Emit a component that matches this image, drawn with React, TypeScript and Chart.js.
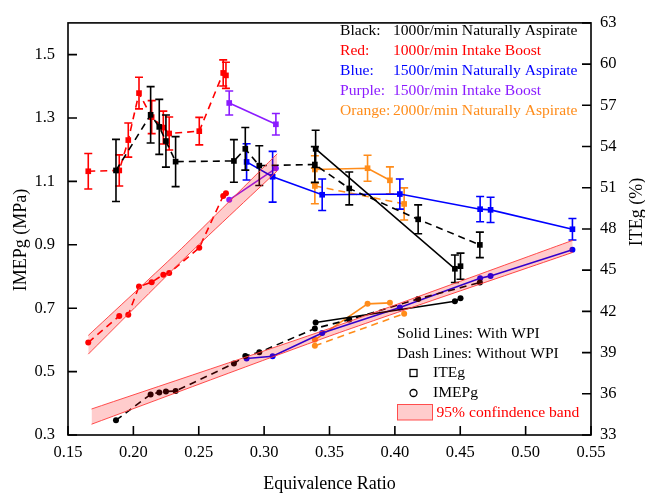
import React, { useEffect, useRef } from 'react';
import { Chart, registerables } from 'chart.js';

Chart.register(...registerables);

const FONT = '"Liberation Serif", "Times New Roman", serif';

// ---- axis ticks ----
const xTicks = [0.15, 0.2, 0.25, 0.3, 0.35, 0.4, 0.45, 0.5, 0.55];
const leftTicks = [0.3, 0.5, 0.7, 0.9, 1.1, 1.3, 1.5];
const rightTicks = [33, 36, 39, 42, 45, 48, 51, 54, 57, 60, 63];

// ---- Black: 1000r/min Naturally Aspirate, without WPI (dashed) ----
const blackDashPhi = [0.1867, 0.2132, 0.2198, 0.2249, 0.2323, 0.2769, 0.2856, 0.2963, 0.3388, 0.3651, 0.4178, 0.4650];
const blackDashITE = [52.26, 56.31, 55.43, 54.40, 52.90, 52.95, 53.83, 52.61, 52.69, 50.95, 48.70, 46.84];
const blackDashITEErr = [2.26, 2.05, 2.0, 1.9, 1.82, 1.55, 1.55, 1.45, 1.3, 1.2, 1.05, 0.93];
const blackDashIMEP = [0.3466, 0.428, 0.4344, 0.4375, 0.4387, 0.5256, 0.5493, 0.5607, 0.636, 0.664, 0.7292, 0.781];

// ---- Black: with WPI (solid) ----
const blackSolidPhi = [0.3394, 0.4459, 0.4502];
const blackSolidITE = [53.83, 45.10, 45.29];
const blackSolidITEErr = [1.36, 1.0, 0.95];
const blackSolidIMEP = [0.6547, 0.722, 0.7314];

// ---- Red: 1000r/min Intake Boost, without WPI (dashed) ----
const redDashPhi = [0.1655, 0.1892, 0.1961, 0.2043, 0.214, 0.2229, 0.2274, 0.2504, 0.2687, 0.2708];
const redDashITE = [52.2, 52.26, 54.47, 57.89, 56.14, 55.38, 54.95, 55.12, 59.36, 59.18];
const redDashITEErr = [1.29, 1.13, 1.24, 1.15, 1.2, 1.2, 1.2, 1.0, 0.95, 0.95];
const redDashIMEP = [0.5917, 0.6755, 0.6796, 0.7687, 0.782, 0.8059, 0.8112, 0.8906, 1.0542, 1.0626];

// ---- Blue: 1500r/min Naturally Aspirate, with WPI (solid) ----
const bluePhi = [0.2866, 0.3065, 0.3444, 0.4038, 0.4652, 0.4732, 0.5358];
const blueITE = [52.88, 51.80, 50.49, 50.54, 49.44, 49.39, 47.98];
const blueITEErr = [1.32, 1.85, 1.15, 1.1, 0.92, 0.92, 0.78];
const blueIMEP = [0.5411, 0.5483, 0.6218, 0.7025, 0.7944, 0.8019, 0.8844];

// ---- Purple: 1500r/min Intake Boost, with WPI (solid) ----
const purplePhi = [0.2733, 0.309];
const purpleITE = [57.17, 55.62];
const purpleITEErr = [0.87, 0.78];
const purpleIMEP = [1.0418, 1.1411];

// ---- Orange: 2000r/min Naturally Aspirate ----
const orangeSolidPhi = [0.3388, 0.3791, 0.3962];
const orangeSolidITE = [52.33, 52.42, 51.54];
const orangeSolidITEErr = [1.0, 0.95, 0.98];
const orangeSolidIMEP = [0.6001, 0.7137, 0.7168];
const orangeDashPhi = [0.3388, 0.4071];
const orangeDashITE = [51.13, 49.82];
const orangeDashITEErr = [1.3, 1.17];
const orangeDashIMEP = [0.5815, 0.6827];

// ---- 95% confidence bands (IMEPg) ----
const redBandPhi = [0.1655, 0.237, 0.31];
const redBandUpper = [0.614, 0.889, 1.187];
const redBandLower = [0.555, 0.849, 1.133];
const lowBandPhi = [0.168, 0.35, 0.536];
const lowBandUpper = [0.382, 0.636, 0.914];
const lowBandLower = [0.334, 0.612, 0.876];

// ---- legend texts ----
const groupNames = ['Black:', 'Red:', 'Blue:', 'Purple:', 'Orange:'];
const groupDescs = [
  '1000r/min Naturally Aspirate',
  '1000r/min Intake Boost',
  '1500r/min Naturally Aspirate',
  '1500r/min Intake Boost',
  '2000r/min Naturally Aspirate',
];
const groupColors = ['#000000', '#ff0000', '#0000ff', '#8b1cff', '#ff8c1a'];
const lineNotes = ['Solid Lines: With WPI', 'Dash Lines: Without WPI'];
const markerNotes = ['ITEg', 'IMEPg'];
const bandNote = '95% confindence band';
const xTitle = 'Equivalence Ratio';
const yLeftTitle = 'IMEPg (MPa)';
const yRightTitle = 'ITEg (%)';

const pts = (xs: number[], ys: number[]) => xs.map((x, i) => ({ x, y: ys[i] }));

const DASH = [7, 5];

function iteSet(label: string, phi: number[], v: number[], err: number[], color: string, dashed: boolean) {
  return {
    label,
    data: pts(phi, v),
    errs: err,
    yAxisID: 'y1',
    borderColor: color,
    backgroundColor: color,
    borderWidth: 1.6,
    borderDash: dashed ? DASH : [],
    pointStyle: 'rect',
    pointRadius: 4,
    pointBorderWidth: 0,
    pointBackgroundColor: color,
    showLine: true,
    fill: false,
    tension: 0,
    order: 2,
  };
}

function imepSet(label: string, phi: number[], v: number[], color: string, dashed: boolean) {
  return {
    label,
    data: pts(phi, v),
    yAxisID: 'y',
    borderColor: color,
    backgroundColor: color,
    borderWidth: 1.6,
    borderDash: dashed ? DASH : [],
    pointStyle: 'circle',
    pointRadius: 3,
    pointBorderWidth: 0,
    pointBackgroundColor: color,
    showLine: true,
    fill: false,
    tension: 0,
    order: 2,
  };
}

function bandSet(label: string, phi: number[], v: number[], fill: any) {
  return {
    label,
    data: pts(phi, v),
    yAxisID: 'y',
    borderColor: 'rgba(255,60,60,0.9)',
    backgroundColor: 'rgba(255,0,0,0.2)',
    borderWidth: 1,
    pointRadius: 0,
    showLine: true,
    fill,
    tension: 0.2,
    order: 0,
  };
}

const errorBarPlugin = {
  id: 'errbars',
  afterDatasetDraw(chart: any, args: any) {
    const ds = chart.data.datasets[args.index];
    if (!ds.errs) return;
    const ctx = chart.ctx;
    const ys = chart.scales[ds.yAxisID];
    ctx.save();
    ctx.strokeStyle = ds.borderColor;
    ctx.lineWidth = 1.6;
    ctx.setLineDash([]);
    args.meta.data.forEach((pt: any, i: number) => {
      const v = ds.data[i].y;
      const e = ds.errs[i];
      const top = ys.getPixelForValue(v + e);
      const bot = ys.getPixelForValue(v - e);
      const x = pt.x;
      ctx.beginPath();
      ctx.moveTo(x, top);
      ctx.lineTo(x, bot);
      ctx.moveTo(x - 4, top);
      ctx.lineTo(x + 4, top);
      ctx.moveTo(x - 4, bot);
      ctx.lineTo(x + 4, bot);
      ctx.stroke();
    });
    ctx.restore();
  },
};

const framePlugin = {
  id: 'frame',
  afterDraw(chart: any) {
    const { ctx, chartArea: a, scales } = chart;
    ctx.save();
    ctx.strokeStyle = '#000';
    ctx.lineWidth = 1.6;
    ctx.setLineDash([]);
    ctx.strokeRect(a.left, a.top, a.right - a.left, a.bottom - a.top);
    const TL = 9;
    ctx.beginPath();
    scales.x.ticks.forEach((t: any) => {
      const px = scales.x.getPixelForValue(t.value);
      ctx.moveTo(px, a.bottom);
      ctx.lineTo(px, a.bottom - TL);
    });
    scales.y.ticks.forEach((t: any) => {
      const py = scales.y.getPixelForValue(t.value);
      ctx.moveTo(a.left, py);
      ctx.lineTo(a.left + TL, py);
    });
    scales.y1.ticks.forEach((t: any) => {
      const py = scales.y1.getPixelForValue(t.value);
      ctx.moveTo(a.right, py);
      ctx.lineTo(a.right - TL, py);
    });
    ctx.stroke();

    // axis titles
    ctx.fillStyle = '#000';
    ctx.font = `18px ${FONT}`;
    ctx.textAlign = 'center';
    ctx.textBaseline = 'middle';
    ctx.fillText(xTitle, (a.left + a.right) / 2, 484);
    ctx.save();
    ctx.translate(21, 240);
    ctx.rotate(-Math.PI / 2);
    ctx.fillText(yLeftTitle, 0, 0);
    ctx.restore();
    ctx.save();
    ctx.translate(637, 212);
    ctx.rotate(-Math.PI / 2);
    ctx.fillText(yRightTitle, 0, 0);
    ctx.restore();

    // group legend (top right)
    ctx.font = `15.6px ${FONT}`;
    ctx.textAlign = 'left';
    groupNames.forEach((n, i) => {
      ctx.fillStyle = groupColors[i];
      const y = 31 + i * 20;
      ctx.fillText(n, 340, y);
      ctx.fillText(groupDescs[i], 393, y);
    });

    // line style / marker legend (bottom right)
    ctx.fillStyle = '#000';
    ctx.fillText(lineNotes[0], 397, 334);
    ctx.fillText(lineNotes[1], 397, 353.5);
    ctx.fillText(markerNotes[0], 433, 373);
    ctx.fillText(markerNotes[1], 433, 393);
    ctx.lineWidth = 1.3;
    ctx.strokeRect(410, 369.5, 7, 7);
    ctx.beginPath();
    ctx.arc(413.5, 393, 3.5, 0, Math.PI * 2);
    ctx.stroke();
    ctx.fillStyle = 'rgba(255,0,0,0.2)';
    ctx.fillRect(397.5, 404.5, 35, 15.5);
    ctx.strokeStyle = 'rgba(255,60,60,0.9)';
    ctx.lineWidth = 1;
    ctx.strokeRect(397.5, 404.5, 35, 15.5);
    ctx.fillStyle = '#ff0000';
    ctx.fillText(bandNote, 436.5, 412.5);
    ctx.restore();
  },
};

export default function App() {
  const ref = useRef<HTMLCanvasElement | null>(null);
  useEffect(() => {
    if (!ref.current) return;
    const datasets: any[] = [
      bandSet('redBandUpper', redBandPhi, redBandUpper, '+1'),
      bandSet('redBandLower', redBandPhi, redBandLower, false),
      bandSet('lowBandUpper', lowBandPhi, lowBandUpper, '+1'),
      bandSet('lowBandLower', lowBandPhi, lowBandLower, false),
      iteSet('black dash ITEg', blackDashPhi, blackDashITE, blackDashITEErr, groupColors[0], true),
      iteSet('black solid ITEg', blackSolidPhi, blackSolidITE, blackSolidITEErr, groupColors[0], false),
      iteSet('red dash ITEg', redDashPhi, redDashITE, redDashITEErr, groupColors[1], true),
      iteSet('blue ITEg', bluePhi, blueITE, blueITEErr, groupColors[2], false),
      iteSet('purple ITEg', purplePhi, purpleITE, purpleITEErr, groupColors[3], false),
      iteSet('orange solid ITEg', orangeSolidPhi, orangeSolidITE, orangeSolidITEErr, groupColors[4], false),
      iteSet('orange dash ITEg', orangeDashPhi, orangeDashITE, orangeDashITEErr, groupColors[4], true),
      imepSet('black dash IMEPg', blackDashPhi, blackDashIMEP, groupColors[0], true),
      imepSet('black solid IMEPg', blackSolidPhi, blackSolidIMEP, groupColors[0], false),
      imepSet('red dash IMEPg', redDashPhi, redDashIMEP, groupColors[1], true),
      imepSet('blue IMEPg', bluePhi, blueIMEP, groupColors[2], false),
      imepSet('purple IMEPg', purplePhi, purpleIMEP, groupColors[3], false),
      imepSet('orange solid IMEPg', orangeSolidPhi, orangeSolidIMEP, groupColors[4], false),
      imepSet('orange dash IMEPg', orangeDashPhi, orangeDashIMEP, groupColors[4], true),
    ];
    const tickFont = { family: FONT, size: 16.5 };
    const chart = new Chart(ref.current, {
      type: 'line',
      data: { datasets },
      plugins: [errorBarPlugin, framePlugin],
      options: {
        animation: false,
        responsive: false,
        devicePixelRatio: 1,
        layout: { padding: { top: 16, left: 0, right: 0, bottom: 0 } },
        plugins: { legend: { display: false }, tooltip: { enabled: false } },
        scales: {
          x: {
            type: 'linear',
            min: 0.15,
            max: 0.55,
            afterBuildTicks: (s: any) => { s.ticks = xTicks.map((v) => ({ value: v })); },
            afterFit: (s: any) => { s.height = 60; },
            ticks: { callback: (v: any) => Number(v).toFixed(2), font: tickFont, color: '#000', padding: 8, maxRotation: 0, autoSkip: false },
            grid: { display: false, drawTicks: false },
            border: { display: false },
          },
          y: {
            type: 'linear',
            position: 'left',
            min: 0.3,
            max: 1.6,
            afterBuildTicks: (s: any) => { s.ticks = leftTicks.map((v) => ({ value: v })); },
            afterFit: (s: any) => { s.width = 68; },
            ticks: { callback: (v: any) => Number(v).toFixed(1), font: tickFont, color: '#000', padding: 13, autoSkip: false },
            grid: { display: false, drawTicks: false },
            border: { display: false },
          },
          y1: {
            type: 'linear',
            position: 'right',
            min: 33,
            max: 63,
            afterBuildTicks: (s: any) => { s.ticks = rightTicks.map((v) => ({ value: v })); },
            afterFit: (s: any) => { s.width = 54; },
            ticks: { callback: (v: any) => String(v), font: tickFont, color: '#000', padding: 9, autoSkip: false },
            grid: { display: false, drawTicks: false },
            border: { display: false },
          },
        },
      } as any,
    });
    return () => chart.destroy();
  }, []);
  return (
    <div style={{ position: 'absolute', left: 0, top: 0, width: 645, height: 495, background: '#fff' }}>
      <canvas ref={ref} width={645} height={495} style={{ display: 'block', width: 645, height: 495 }} />
    </div>
  );
}
